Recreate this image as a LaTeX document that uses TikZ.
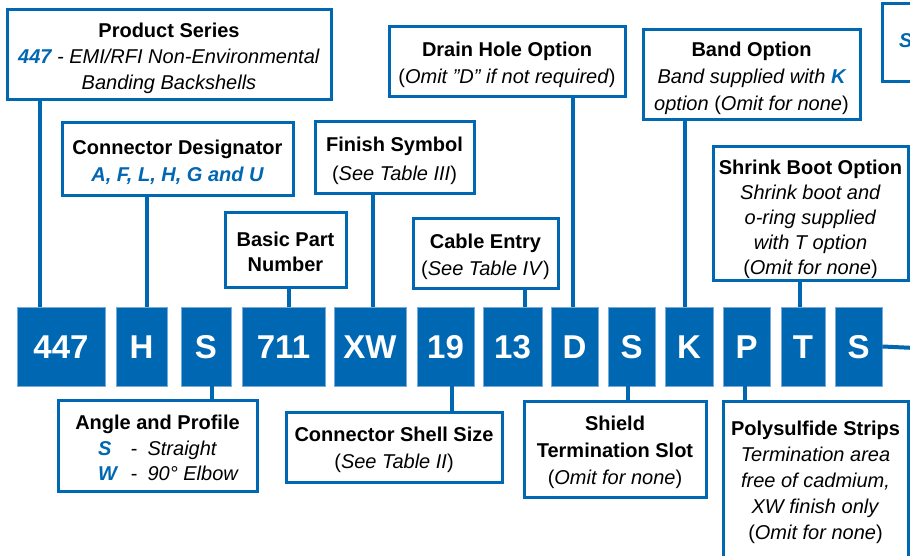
\documentclass[tikz,border=0pt]{standalone}
\usepackage{fontspec}
\setmainfont{Liberation Sans}
\definecolor{gblue}{RGB}{0,103,178}
\definecolor{gedge}{RGB}{120,170,218}
\newcommand{\hlb}[1]{{\color{gblue}\bfseries\itshape #1}}
\newcommand{\tstrut}[1]{\rule{0pt}{#1pt}}
\tikzset{
  infobox/.style={draw=gblue, line width=3pt, fill=white, inner sep=0pt, align=center,
    font=\fontsize{20}{27}\selectfont},
  codebox/.style={fill=gblue, draw=gedge, line width=0.8pt, inner sep=0pt, text=white,
    font=\fontsize{33}{33}\selectfont\bfseries, minimum height=79pt, text height=23.6pt, text depth=0pt},
  conn/.style={draw=gblue, line width=4pt},
}
\begin{document}
\begin{tikzpicture}[x=1pt,y=-1pt]
\clip (0,0) rectangle (910,556);
\fill[white] (0,0) rectangle (910,556);

% code boxes
\node[codebox, minimum width=88pt] (c447) at (61,346.5) {447};
\node[codebox, minimum width=51pt] (cH) at (141.5,346.5) {H};
\node[codebox, minimum width=50pt] (cS1) at (206,346.5) {S};
\node[codebox, minimum width=83pt] (c711) at (283.5,346.5) {711};
\node[codebox, minimum width=72pt] (cXW) at (370,346.5) {XW};
\node[codebox, minimum width=57pt] (c19) at (445.5,346.5) {19};
\node[codebox, minimum width=59pt] (c13) at (512.5,346.5) {13};
\node[codebox, minimum width=47pt] (cD) at (574.5,346.5) {D};
\node[codebox, minimum width=47pt] (cS2) at (631.5,346.5) {S};
\node[codebox, minimum width=48pt] (cK) at (689,346.5) {K};
\node[codebox, minimum width=47pt] (cP) at (746.5,346.5) {P};
\node[codebox, minimum width=44pt] (cT) at (803,346.5) {T};
\node[codebox, minimum width=47pt] (cS3) at (858.5,346.5) {S};

% top boxes
\node[infobox, minimum width=324pt, minimum height=90pt, font=\fontsize{20}{26}\selectfont] (ps) at (169,55)
  {\tstrut{21}\textbf{Product Series}\\ \hlb{447} \textit{- EMI/RFI Non-Environmental}\\ \textit{Banding Backshells}};
\node[infobox, minimum width=231pt, minimum height=73pt] (cdes) at (177.5,159.5)
  {\tstrut{20}\textbf{Connector Designator}\\ \hlb{A, F, L, H, G and U}};
\node[infobox, minimum width=121pt, minimum height=74pt, font=\fontsize{20}{25}\selectfont] (bpn) at (285.5,250)
  {\tstrut{19}\textbf{Basic Part}\\ \textbf{Number}};
\node[infobox, minimum width=159pt, minimum height=72pt, font=\fontsize{20}{29}\selectfont] (fin) at (394.5,158)
  {\tstrut{21}\textbf{Finish Symbol}\\ (\textit{See Table III})};
\node[infobox, minimum width=145pt, minimum height=69pt] (cab) at (485.5,253.5)
  {\tstrut{21}\textbf{Cable Entry}\\ (\textit{See Table IV})};
\node[infobox, minimum width=236pt, minimum height=70pt] (drn) at (507,62)
  {\tstrut{21}\textbf{Drain Hole Option}\\ (\textit{Omit \char34 D\char34{} if not required})};
\node[infobox, minimum width=217pt, minimum height=90pt] (bnd) at (751.5,75)
  {\tstrut{21}\textbf{Band Option}\\ \textit{Band supplied with} \hlb{K}\\ \textit{option} (\textit{Omit for none})};
\node[infobox, minimum width=195pt, minimum height=133pt, font=\fontsize{20}{25}\selectfont] (shr) at (810.5,213.5)
  {\tstrut{27}\textbf{Shrink Boot Option}\\ \textit{Shrink boot and}\\ \textit{o-ring supplied}\\ \textit{with T option}\\ (\textit{Omit for none})};
\node[infobox, minimum width=120pt, minimum height=78pt, anchor=north west] (tr) at (881,2) {};
\node[font=\fontsize{20}{26}\selectfont\bfseries\itshape, text=gblue, anchor=west, inner sep=0pt] (trs) at (899,41) {S};

% bottom boxes
\node[infobox, minimum width=199pt, minimum height=91pt] (ap) at (157.5,445.5)
  {\tstrut{26}\textbf{Angle and Profile}\\[3pt]\hspace*{22pt}{\renewcommand{\arraystretch}{0.93}\begin{tabular}{@{}l@{\hspace{14pt}}l@{\hspace{10pt}}l@{}}\hlb{S} & - & \textit{Straight}\\ \hlb{W} & - & \textit{90° Elbow}\end{tabular}}};
\node[infobox, minimum width=216pt, minimum height=70pt] (css) at (394,447)
  {\tstrut{21}\textbf{Connector Shell Size}\\ (\textit{See Table II})};
\node[infobox, minimum width=182pt, minimum height=96pt] (sts) at (615,449)
  {\tstrut{21}\textbf{Shield}\\ \textbf{Termination Slot}\\ (\textit{Omit for none})};
\node[infobox, minimum width=185pt, minimum height=157pt, font=\fontsize{20}{26}\selectfont] (pss) at (815.5,479.5)
  {\tstrut{21}\textbf{Polysulfide Strips}\\ \textit{Termination area}\\ \textit{free of cadmium,}\\ \textit{XW finish only}\\ (\textit{Omit for none})};

% connector x positions
\coordinate (x447) at (40,0);
\coordinate (xH) at (147,0);
\coordinate (x711) at (289,0);
\coordinate (xXW) at (373,0);
\coordinate (x13) at (525,0);
\coordinate (xD) at (573,0);
\coordinate (xK) at (685,0);
\coordinate (xT) at (800,0);
\coordinate (xS1) at (212,0);
\coordinate (x19) at (452,0);
\coordinate (xS2) at (628,0);
\coordinate (xP) at (745,0);
\coordinate (rend) at (915,348);

\draw[conn] (ps.south -| x447) -- (c447.north -| x447);
\draw[conn] (cdes.south -| xH) -- (cH.north -| xH);
\draw[conn] (bpn.south -| x711) -- (c711.north -| x711);
\draw[conn] (fin.south -| xXW) -- (cXW.north -| xXW);
\draw[conn] (cab.south -| x13) -- (c13.north -| x13);
\draw[conn] (drn.south -| xD) -- (cD.north -| xD);
\draw[conn] (bnd.south -| xK) -- (cK.north -| xK);
\draw[conn] (shr.south -| xT) -- (cT.north -| xT);
\draw[conn] (cS1.south -| xS1) -- (ap.north -| xS1);
\draw[conn] (c19.south -| x19) -- (css.north -| x19);
\draw[conn] (cS2.south -| xS2) -- (sts.north -| xS2);
\draw[conn] (cP.south -| xP) -- (pss.north -| xP);
\draw[conn] (cS3.east) -- (rend);
\end{tikzpicture}
\end{document}
